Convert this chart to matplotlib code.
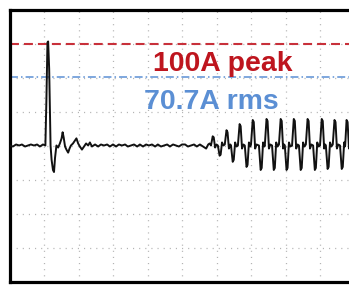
import matplotlib

matplotlib.use("Agg")
import matplotlib.pyplot as plt
import numpy as np

# scope screen: 10 x 8 divisions, time in divisions, current in amps (33.3 A/div)
n_xdiv = 10
a_per_div = 100 / 3

peak_a = 100.0
rms_marker_a = 66.7  # dash-dot marker sits on the 2nd division in the original
peak_label = "100A peak"
rms_label = "70.7A rms"

# trace in pieces
pre_t = [0.00, 0.10, 0.19, 0.28, 0.36, 0.45, 0.54, 0.62, 0.71, 0.80, 0.88, 0.97, 1.04]
pre_a = [0, -1, 1, 0, 1, -1, 0, 1, 0, 1, -1, 1, 0]

turn_on_t = [1.07, 1.10, 1.12, 1.15, 1.19, 1.22, 1.26, 1.29, 1.32, 1.36,
             1.41, 1.46, 1.51, 1.54, 1.57, 1.61, 1.65, 1.70, 1.74, 1.78,
             1.84, 1.90, 1.94, 1.99, 2.04, 2.10, 2.16, 2.22, 2.28, 2.33, 2.39]
turn_on_a = [45, 101, 102, 75, 0, -14, -24, -26, -12, 0,
             -2, 2, 7, 13, 8, -1, -4, -7, -3, 0,
             2, 5, 7, 2, -1, -4, -1, 2, 0, 3, -1]

quiet_t = [2.48, 2.57, 2.65, 2.74, 2.83, 2.91, 3.00, 3.09, 3.17, 3.26,
           3.35, 3.43, 3.52, 3.61, 3.70, 3.78, 3.87, 3.96, 4.04, 4.13,
           4.22, 4.30, 4.39, 4.48, 4.57, 4.65, 4.74, 4.83, 4.91, 5.00,
           5.09, 5.17, 5.26, 5.35, 5.43, 5.52, 5.61, 5.70, 5.76, 5.80]
quiet_a = [1, -1, 1, 0, 1, -1, 1, -1, 1, 0,
           1, -1, 0, 1, -1, 1, -1, 1, 0, 1,
           -1, 1, -1, 0, 1, -1, 1, 0, -1, 1,
           1, -1, 0, 1, -1, 1, -1, -3, 1, 2]

ring_t = [5.84, 5.89, 5.92, 5.96, 6.00, 6.04, 6.09, 6.12, 6.16, 6.20,
          6.24, 6.29, 6.32, 6.36, 6.40, 6.42, 6.47, 6.50, 6.54, 6.58,
          6.62, 6.67, 6.70, 6.74, 6.78, 6.82, 6.87, 6.90, 6.94, 6.98,
          7.00, 7.05, 7.08, 7.12, 7.16, 7.23, 7.28, 7.31, 7.35, 7.39,
          7.40, 7.45, 7.48, 7.52, 7.56, 7.61, 7.66, 7.69, 7.73, 7.77,
          7.81, 7.86, 7.89, 7.93, 7.96, 7.98, 8.03, 8.06, 8.10, 8.14,
          8.19, 8.24, 8.27, 8.31, 8.35, 8.39, 8.44, 8.47, 8.51, 8.55,
          8.59, 8.64, 8.67, 8.71, 8.75, 8.80, 8.85, 8.88, 8.92, 8.96,
          9.00, 9.05, 9.08, 9.12, 9.15, 9.17, 9.22, 9.25, 9.29, 9.33,
          9.37, 9.42, 9.45, 9.49, 9.53, 9.58, 9.63, 9.66, 9.70, 9.72,
          9.73, 9.77, 9.80, 9.84, 9.88, 9.92, 9.97, 10.00, 10.04, 10.08]
ring_a = [0, 9, 8, -2, 1, 0, -10, -9, 3, 0,
          1, 15, 13, -3, 1, 0, -16, -14, 3, -1,
          0, 21, 19, -3, 1, 0, -21, -19, 3, -1,
          1, 25, 23, -3, 1, 0, -24, -22, 3, -1,
          0, 26, 24, -3, 1, 0, -24, -22, 3, -1,
          1, 26, 24, -3, 1, 0, -24, -22, 3, -1,
          0, 26, 24, -3, 1, 0, -24, -22, 3, -1,
          1, 26, 24, -3, 1, 0, -24, -22, 3, -1,
          0, 26, 24, -3, 1, 0, -23, -21, 3, -1,
          1, 25, 23, -3, 1, 0, -23, -21, 3, -1,
          0, 25, 23, -3, 1, 0, -23, -21, 3, -1]

t = np.array(pre_t + turn_on_t + quiet_t + ring_t)
amps = np.array(pre_a + turn_on_a + quiet_a + ring_a)

fig = plt.figure(figsize=(3.49, 2.85), dpi=100)
# right edge of the screen runs off the picture, as in the original crop
ax = fig.add_axes([9.5 / 349, 3.5 / 285, 345 / 349, 272 / 285])

ax.set_xlim(0, n_xdiv)
ax.set_ylim(-4 * a_per_div, 4 * a_per_div)
ax.set_xticks(np.arange(0, n_xdiv + 1))
ax.set_yticks(np.arange(-4, 5) * a_per_div)
ax.tick_params(length=0, labelbottom=False, labelleft=False)
ax.grid(True, color="#b4b4b4", lw=0.9, linestyle=(0, (0.9, 4.0)))
ax.set_axisbelow(True)
for sp in ax.spines.values():
    sp.set_linewidth(2.3)
    sp.set_color("black")

red = "#be151e"
blue = "#5b8fd4"
ax.axhline(peak_a, color="#c8303a", lw=1.5, linestyle=(0, (4.3, 2.4)), zorder=2)
ax.axhline(rms_marker_a, color=blue, lw=1.1, linestyle=(0, (5.2, 2.0, 1.0, 2.0)), zorder=2)

ax.plot(t, amps, color="#111111", lw=1.4, zorder=3)

ax.text(6.19, 73, peak_label, color=red, fontsize=20.4, fontweight="bold",
        family="Liberation Sans", ha="center", va="baseline", zorder=4)
ax.text(5.84, 35.8, rms_label, color=blue, fontsize=20.4, fontweight="bold",
        family="Liberation Sans", ha="center", va="baseline", zorder=4)

fig.savefig("out.png", dpi=100)
